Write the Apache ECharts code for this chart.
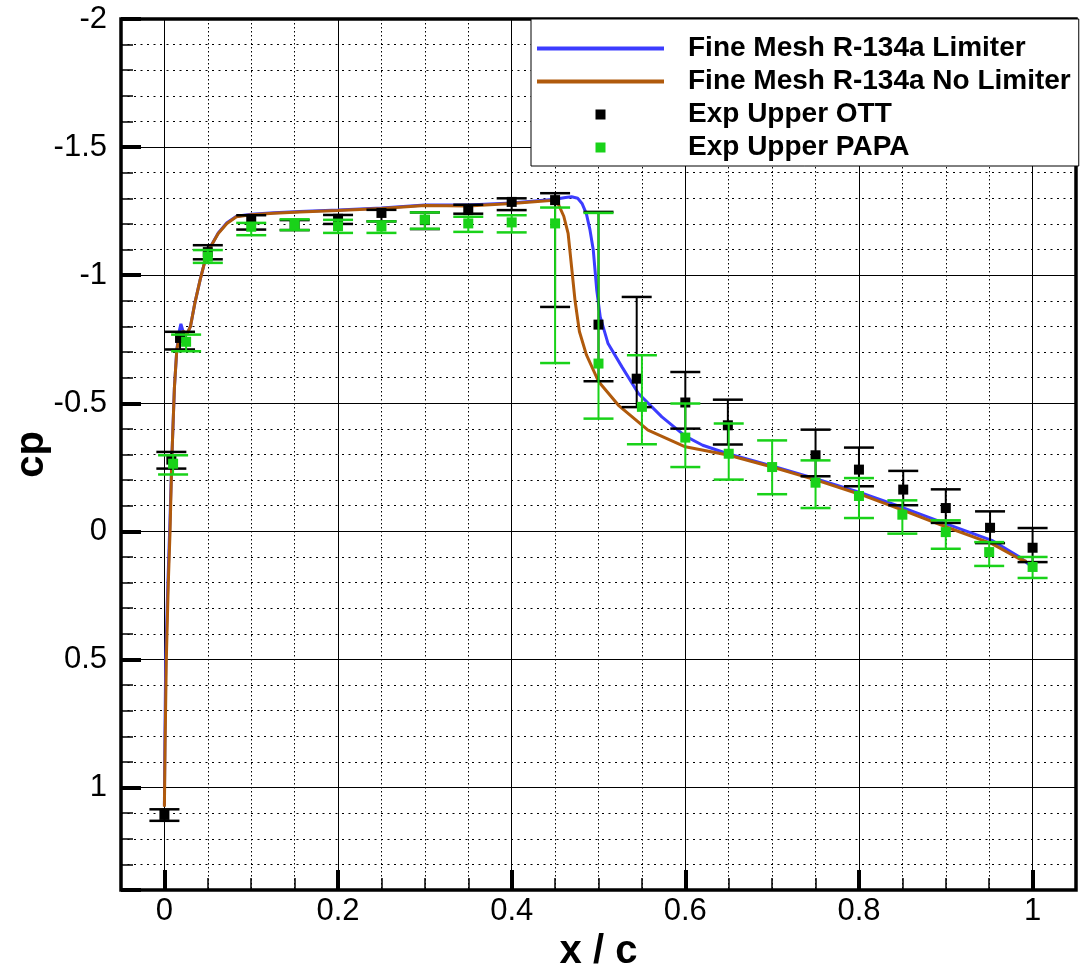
<!DOCTYPE html>
<html><head><meta charset="utf-8">
<script src="https://cdn.jsdelivr.net/npm/echarts@6/dist/echarts.min.js"></script>
<style>html,body{margin:0;padding:0;background:#fff}#c{width:1092px;height:967px}</style>
</head><body><div id="c"></div>
<script>
// ---- data ----
const limiterX = [0.0000, 0.0005, 0.0015, 0.0040, 0.0060, 0.0085, 0.0115, 0.0143, 0.0170, 0.0190, 0.0220, 0.0260, 0.0300, 0.0350, 0.0410, 0.0470, 0.0530, 0.0620, 0.0720, 0.0830, 0.1000, 0.1260, 0.1560, 0.2000, 0.2500, 0.3000, 0.3500, 0.4000, 0.4500, 0.4620, 0.4690, 0.4760, 0.4810, 0.4860, 0.4900, 0.4940, 0.4980, 0.5020, 0.5110, 0.5270, 0.5460, 0.5730, 0.6000, 0.6200, 0.6490, 0.7000, 0.7510, 0.8010, 0.8510, 0.9030, 0.9530, 0.9850, 1.0000];
const limiterCp = [1.070, 0.83, 0.50, 0.20, 0.00, -0.28, -0.56, -0.71, -0.78, -0.81, -0.775, -0.77, -0.80, -0.89, -0.98, -1.06, -1.11, -1.165, -1.205, -1.230, -1.238, -1.244, -1.249, -1.254, -1.262, -1.274, -1.274, -1.282, -1.296, -1.303, -1.306, -1.300, -1.280, -1.240, -1.180, -1.098, -0.941, -0.837, -0.733, -0.642, -0.538, -0.447, -0.372, -0.336, -0.303, -0.255, -0.205, -0.152, -0.092, -0.026, 0.035, 0.100, 0.140];

const noLimiterX = [0.0000, 0.0008, 0.0022, 0.0045, 0.0065, 0.0085, 0.0115, 0.0143, 0.0180, 0.0220, 0.0260, 0.0300, 0.0350, 0.0410, 0.0470, 0.0530, 0.0620, 0.0720, 0.0830, 0.1000, 0.1260, 0.1560, 0.2000, 0.2500, 0.3000, 0.3500, 0.4000, 0.4300, 0.4480, 0.4540, 0.4600, 0.4650, 0.4690, 0.4730, 0.4780, 0.4860, 0.5000, 0.5230, 0.5570, 0.6000, 0.6490, 0.7000, 0.7510, 0.8010, 0.8510, 0.9030, 0.9530, 0.9850, 0.9930];
const noLimiterCp = [1.075, 0.83, 0.50, 0.20, 0.00, -0.28, -0.56, -0.71, -0.775, -0.78, -0.77, -0.80, -0.89, -0.98, -1.06, -1.11, -1.163, -1.202, -1.228, -1.236, -1.242, -1.247, -1.252, -1.260, -1.272, -1.270, -1.280, -1.288, -1.292, -1.275, -1.230, -1.163, -1.032, -0.90, -0.78, -0.69, -0.585, -0.492, -0.395, -0.330, -0.298, -0.251, -0.200, -0.145, -0.082, -0.014, 0.048, 0.108, 0.117];

const ottX = [0.000, 0.008, 0.018, 0.050, 0.100, 0.150, 0.200, 0.250, 0.300, 0.350, 0.400, 0.450, 0.500, 0.544, 0.600, 0.649, 0.750, 0.800, 0.851, 0.900, 0.951, 1.000];
const ottCp = [1.107, -0.28, -0.755, -1.09, -1.215, -1.20, -1.22, -1.243, -1.215, -1.254, -1.286, -1.293, -0.807, -0.596, -0.503, -0.414, -0.297, -0.241, -0.163, -0.091, -0.014, 0.064];
const ottErrTop = [1.085, -0.31, -0.779, -1.117, -1.234, -1.215, -1.235, -1.255, -1.245, -1.275, -1.300, -1.320, -1.247, -0.915, -0.622, -0.514, -0.397, -0.327, -0.236, -0.164, -0.078, -0.013];
const ottErrBottom = [1.13, -0.245, -0.71, -1.062, -1.178, -1.176, -1.20, -1.21, -1.18, -1.24, -1.254, -0.876, -0.586, -0.485, -0.401, -0.339, -0.215, -0.176, -0.102, -0.033, 0.046, 0.12];

const papaX = [0.010, 0.025, 0.050, 0.100, 0.150, 0.200, 0.250, 0.300, 0.350, 0.400, 0.450, 0.500, 0.550, 0.600, 0.650, 0.700, 0.750, 0.800, 0.850, 0.900, 0.950, 1.000];
const papaCp = [-0.264, -0.74, -1.072, -1.189, -1.198, -1.191, -1.19, -1.217, -1.202, -1.206, -1.202, -0.655, -0.486, -0.366, -0.303, -0.251, -0.19, -0.138, -0.065, 0.003, 0.081, 0.139];
const papaErrTop = [-0.297, -0.768, -1.098, -1.204, -1.218, -1.216, -1.21, -1.245, -1.228, -1.234, -1.264, -1.243, -0.6875, -0.499, -0.421, -0.355, -0.277, -0.208, -0.121, -0.043, 0.042, 0.10];
const papaErrBottom = [-0.222, -0.703, -1.048, -1.156, -1.176, -1.165, -1.165, -1.181, -1.169, -1.167, -0.657, -0.44, -0.34, -0.251, -0.202, -0.145, -0.091, -0.052, 0.009, 0.068, 0.135, 0.182];

const xMajorTicks = [0, 0.2, 0.4, 0.6, 0.8, 1];
const seriesNames = ['Fine Mesh R-134a Limiter', 'Fine Mesh R-134a No Limiter', 'Exp Upper OTT', 'Exp Upper PAPA'];
const xAxisTitle = 'x / c';
const yAxisTitle = 'cp';

// ---- styling ----
const BLUE = '#3c3cff', BROWN = '#b05a0c', GREEN = '#19d219', BLACK = '#000';
const FONT = 'Liberation Sans, Arial, Helvetica, sans-serif';

const zip = (a, b) => a.map((v, i) => [v, b[i]]);
const zip3 = (a, b, c) => a.map((v, i) => [v, b[i], c[i]]);

function errorBarSeries(name, data, color, z) {
  return {
    type: 'custom', name: name + ' err', z: z, silent: true,
    data: data,
    encode: { x: 0, y: [1, 2] },
    renderItem: function (params, api) {
      const x = api.value(0);
      const p1 = api.coord([x, api.value(1)]);
      const p2 = api.coord([x, api.value(2)]);
      const hw = 15;
      return {
        type: 'group', children: [
          { type: 'line', shape: { x1: p1[0], y1: p1[1], x2: p2[0], y2: p2[1] }, style: { stroke: color, lineWidth: 2 } },
          { type: 'line', shape: { x1: p1[0] - hw, y1: p1[1], x2: p1[0] + hw, y2: p1[1] }, style: { stroke: color, lineWidth: 2.5 } },
          { type: 'line', shape: { x1: p2[0] - hw, y1: p2[1], x2: p2[0] + hw, y2: p2[1] }, style: { stroke: color, lineWidth: 2.5 } }
        ]
      };
    }
  };
}

const chart = echarts.init(document.getElementById('c'), null, { renderer: 'canvas' });
const sq = 'path://M0,0H10V10H0Z';
const lineIcon = 'path://M0,0H127V4H0Z';
chart.setOption({
  animation: false,
  backgroundColor: '#fff',
  grid: { left: 121, top: 19, width: 955, height: 871, show: true, borderColor: '#000', borderWidth: 3.5,
          containLabel: false, outerBoundsMode: 'none' },
  legend: {
    left: 531, top: 19, orient: 'vertical', selectedMode: false,
    backgroundColor: '#fff', borderColor: '#000', borderWidth: 1, borderRadius: 0,
    padding: [13, 8, 2, 6], itemGap: 0, itemWidth: 127, itemHeight: 10,
    textStyle: { fontFamily: FONT, fontWeight: 'bold', fontSize: 28, color: '#000', lineHeight: 33, padding: [0, 0, 0, 19] },
    data: [
      { name: seriesNames[0], icon: lineIcon },
      { name: seriesNames[1], icon: lineIcon },
      { name: seriesNames[2], icon: sq },
      { name: seriesNames[3], icon: sq }
    ]
  },
  xAxis: [
    {
      type: 'value', min: -0.05, max: 1.05, interval: 0.05, position: 'bottom',
      name: xAxisTitle, nameLocation: 'middle', nameGap: 33,
      nameTextStyle: { fontFamily: FONT, fontWeight: 'bold', fontSize: 40, color: '#000' },
      axisLine: { show: false, onZero: false },
      axisTick: { show: true, inside: true, length: 12, lineStyle: { color: '#000', width: 1.5 } },
      axisLabel: {
        show: true, margin: 6, fontFamily: FONT, fontSize: 31, color: '#000',
        showMinLabel: false, showMaxLabel: false,
        formatter: function (v) { const r = Math.round(v * 5) / 5; return Math.abs(v - r) > 1e-6 ? '' : String(r); }
      },
      splitLine: { show: true, lineStyle: { color: '#000', width: 1, type: [1.5, 2.5] } }
    },
    {
      type: 'value', min: -0.05, max: 1.05, position: 'bottom',
      axisLine: { show: false, onZero: false },
      axisTick: { show: true, inside: true, length: 20, customValues: xMajorTicks, lineStyle: { color: '#000', width: 4 } },
      axisLabel: { show: false, customValues: xMajorTicks },
      splitLine: { show: true, customValues: xMajorTicks, lineStyle: { color: '#000', width: 1, type: 'solid' } }
    }
  ],
  yAxis: [
    {
      type: 'value', inverse: true, min: -2, max: 1.4, interval: 0.1, position: 'left',
      name: yAxisTitle, nameLocation: 'middle', nameGap: 69, nameMoveOverlap: false,
      nameTextStyle: { fontFamily: FONT, fontWeight: 'bold', fontSize: 40, color: '#000' },
      axisLine: { show: false, onZero: false },
      axisTick: { show: true, inside: true, length: 12, lineStyle: { color: '#000', width: 1.5 } },
      axisLabel: {
        show: true, margin: 14, fontFamily: FONT, fontSize: 31, color: '#000',
        showMaxLabel: false,
        formatter: function (v) { const r = Math.round(v * 2) / 2; return Math.abs(v - r) > 1e-6 ? '' : String(r); }
      },
      splitLine: { show: true, lineStyle: { color: '#000', width: 1, type: [2, 4.5] } }
    },
    {
      type: 'value', inverse: true, min: -2, max: 1.4, interval: 0.5, position: 'left',
      axisLine: { show: false, onZero: false },
      axisTick: { show: true, inside: true, length: 20, lineStyle: { color: '#000', width: 4 } },
      axisLabel: { show: false },
      splitLine: { show: true, lineStyle: { color: '#000', width: 1, type: 'solid' } }
    }
  ],
  series: [
    { type: 'line', name: seriesNames[0], data: zip(limiterX, limiterCp), symbol: 'none', showSymbol: false, z: 3,
      lineStyle: { color: BLUE, width: 3 }, itemStyle: { color: BLUE } },
    { type: 'line', name: seriesNames[1], data: zip(noLimiterX, noLimiterCp), symbol: 'none', showSymbol: false, z: 4,
      lineStyle: { color: BROWN, width: 3 }, itemStyle: { color: BROWN } },
    errorBarSeries(seriesNames[2], zip3(ottX, ottErrTop, ottErrBottom), BLACK, 5),
    { type: 'scatter', name: seriesNames[2], data: zip(ottX, ottCp), symbol: 'rect', symbolSize: 10, z: 6,
      itemStyle: { color: BLACK, opacity: 1 } },
    errorBarSeries(seriesNames[3], zip3(papaX, papaErrTop, papaErrBottom), GREEN, 7),
    { type: 'scatter', name: seriesNames[3], data: zip(papaX, papaCp), symbol: 'rect', symbolSize: 10, z: 8,
      itemStyle: { color: GREEN, opacity: 1 } }
  ]
});
</script></body></html>
